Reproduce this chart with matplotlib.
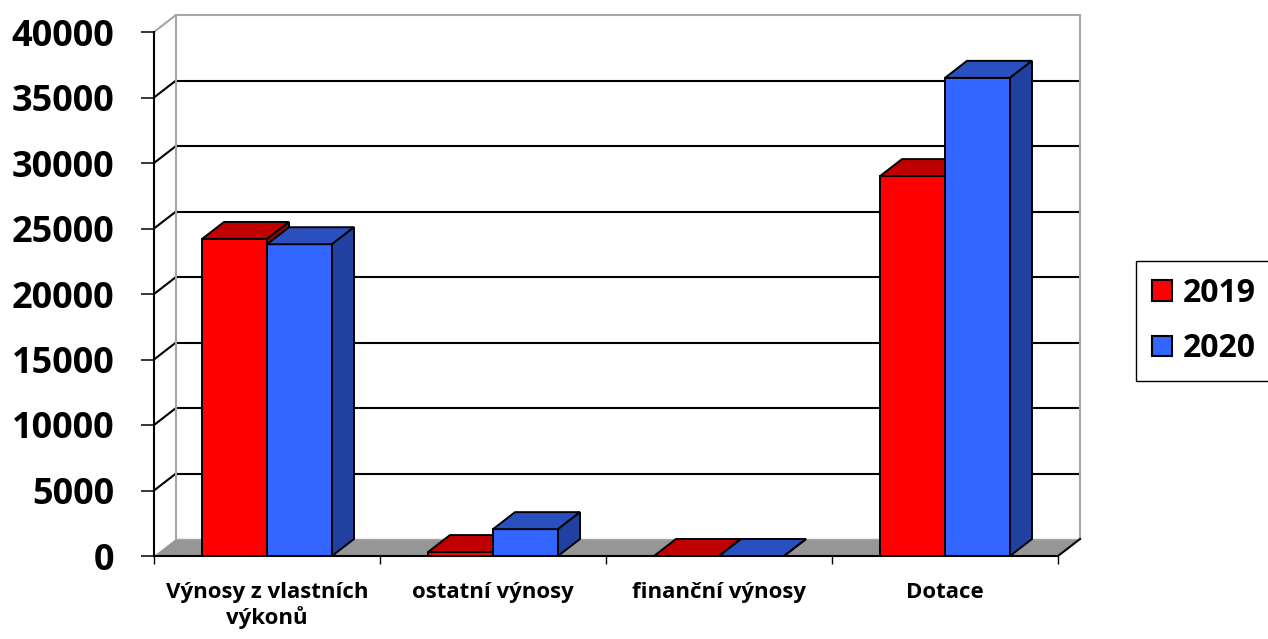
import matplotlib.pyplot as plt
from matplotlib.patches import Polygon, Patch

# data
categories = ["Výnosy z vlastních\nvýkonů", "ostatní výnosy", "finanční výnosy", "Dotace"]
series_names = ["2019", "2020"]
values_2019 = [24200, 300, 0, 29000]
values_2020 = [23800, 2050, 0, 36500]
y_ticks = list(range(0, 40001, 5000))

# colours (front, top, side)
red = ("#FF0000", "#C00000", "#A00000")
blue = ("#3366FF", "#2A50C0", "#2141A0")
floor_c = "#969696"
wall_c = "#A6A6A6"

plt.rcParams["font.family"] = ["Open Sans", "DejaVu Sans"]
plt.rcParams["font.weight"] = "bold"

W, H, DPI = 1268, 639, 100
fig = plt.figure(figsize=(W / DPI, H / DPI), dpi=DPI)

# layout in pixels of the front plane
px_left, px_zero = 154, 556
px_per_cat = 226
px_per_5000 = 65.5
px_right, px_top = 1092, 6
xmax = (px_right - px_left) / px_per_cat
ymax = (px_zero - px_top) / px_per_5000 * 5000

ax = fig.add_axes([px_left / W, (H - px_zero) / H,
                   (px_right - px_left) / W, (px_zero - px_top) / H])
ax.set_xlim(0, xmax)
ax.set_ylim(0, ymax)
ax.patch.set_visible(False)

n = len(categories)
top_val = y_ticks[-1]
# depth offset of the 3D box, in data units
dx = 22 / px_per_cat
dy = 17 / px_per_5000 * 5000

# floor
ax.add_patch(Polygon([(0, 0), (n, 0), (n + dx, dy), (dx, dy)], closed=True,
                     facecolor=floor_c, edgecolor="none", zorder=1))
ax.plot([n, n + dx], [0, dy], color="black", lw=1.5, zorder=2)
ax.plot([dx, n + dx], [dy, dy], color=wall_c, lw=1.0, zorder=1.5)

# gridlines on side wall and back wall
for v in y_ticks[1:]:
    c = wall_c if v == top_val else "black"
    ax.plot([0, dx], [v, v + dy], color=c, lw=1.5, zorder=1)
    ax.plot([dx, n + dx], [v + dy, v + dy], color=c, lw=1.5, zorder=1)
ax.plot([dx, dx], [dy, top_val + dy], color=wall_c, lw=1.5, zorder=1)
ax.plot([n + dx, n + dx], [dy, top_val + dy], color=wall_c, lw=1.5, zorder=1)

# bars
bw = 65 / px_per_cat
centers = [i + 0.5 for i in range(n)]


def draw_bars(lefts, vals, cols, z):
    ax.bar(lefts, vals, bw, align="edge", color=cols[0], edgecolor="black",
           linewidth=1.4, zorder=z)
    for x0, v in zip(lefts, vals):
        x1 = x0 + bw
        ax.add_patch(Polygon([(x0, v), (x1, v), (x1 + dx, v + dy), (x0 + dx, v + dy)],
                             closed=True, facecolor=cols[1], edgecolor="black",
                             lw=1.4, zorder=z))
        ax.add_patch(Polygon([(x1, 0), (x1 + dx, dy), (x1 + dx, v + dy), (x1, v)],
                             closed=True, facecolor=cols[2], edgecolor="black",
                             lw=1.4, zorder=z))


draw_bars([c - bw for c in centers], values_2019, red, 3)
draw_bars(centers, values_2020, blue, 4)

# axes / ticks
for s in ["top", "right"]:
    ax.spines[s].set_visible(False)
ax.spines["left"].set_bounds(0, top_val)
ax.spines["bottom"].set_bounds(0, n)
ax.spines["left"].set_linewidth(1.5)
ax.spines["bottom"].set_linewidth(1.5)

ax.set_yticks(y_ticks)
ax.set_yticklabels([str(v) for v in y_ticks], fontsize=26, fontweight="bold")
ax.tick_params(axis="y", direction="out", length=9.5, width=1.1, pad=19)

ax.set_xticks(range(n + 1))
ax.set_xticklabels([])
ax.set_xticks(centers, minor=True)
ax.set_xticklabels(categories, minor=True, fontsize=16, fontweight="bold",
                   linespacing=1.12, va="top")
ax.tick_params(axis="x", which="major", direction="out", length=6, width=1.0)
ax.tick_params(axis="x", which="minor", length=0, pad=19)

handles = [Patch(facecolor=red[0], edgecolor="black", lw=1.5),
           Patch(facecolor=blue[0], edgecolor="black", lw=1.5)]
leg = fig.legend(handles, series_names, loc="upper left",
                 bbox_to_anchor=(1136 / W, 1 - 261 / H),
                 prop={"size": 23, "weight": "bold"}, frameon=True,
                 fancybox=False, framealpha=1, edgecolor="black",
                 handlelength=0.62, handleheight=0.62, handletextpad=0.35,
                 labelspacing=0.7, borderpad=0.5, borderaxespad=0)
leg.get_frame().set_linewidth(1.0)

fig.savefig("out.png", dpi=DPI)
